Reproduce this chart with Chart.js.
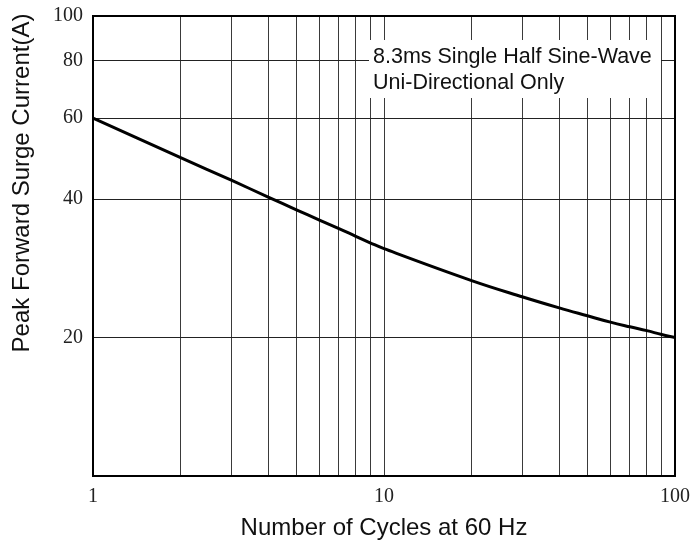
<!DOCTYPE html>
<html>
<head>
<meta charset="utf-8">
<script src="https://cdn.jsdelivr.net/npm/chart.js@4"></script>
<style>
  html, body { margin: 0; padding: 0; background: #fff; }
  #wrap { width: 692px; height: 542px; }
</style>
</head>
<body>
<div id="wrap"><canvas id="c" width="692" height="542"></canvas></div>
<script>
// ---- data ----
const cycles = [1, 2, 3, 4, 5, 6, 7, 8, 9, 10, 20, 30, 40, 50, 60, 70, 80, 90, 100];
const surgeCurrent = [60, 49.2, 43.9, 40.4, 37.9, 36.0, 34.5, 33.2, 32.1, 31.2, 26.6, 24.5, 23.2, 22.3, 21.6, 21.1, 20.7, 20.3, 20];
const xGridTicks = [1, 2, 3, 4, 5, 6, 7, 8, 9, 10, 20, 30, 40, 50, 60, 70, 80, 90, 100];
const xTickLabels = [1, 10, 100];
const yGridTicks = [10, 20, 40, 60, 80, 100];
const yTickLabels = [20, 40, 60, 80, 100];
const xTitle = 'Number of Cycles at 60 Hz';
const yTitle = 'Peak Forward Surge Current(A)';
const noteLines = ['8.3ms Single Half Sine-Wave', 'Uni-Directional Only'];

const decor = {
  id: 'decor',
  beforeDatasetsDraw(chart) {
    const ctx = chart.ctx;
    ctx.save();
    ctx.fillStyle = '#fff';
    ctx.fillRect(369, 40, 292, 58);
    ctx.fillStyle = '#111';
    ctx.font = '21.5px "Liberation Sans", Arial, sans-serif';
    ctx.textBaseline = 'alphabetic';
    ctx.textAlign = 'left';
    ctx.fillText(noteLines[0], 373, 63);
    ctx.fillText(noteLines[1], 373, 89);
    ctx.restore();
  },
  afterDraw(chart) {
    const ctx = chart.ctx;
    const a = chart.chartArea;
    ctx.save();
    ctx.strokeStyle = '#000';
    ctx.lineWidth = 2;
    ctx.strokeRect(a.left, a.top, a.right - a.left, a.bottom - a.top);
    ctx.fillStyle = '#111';
    ctx.font = '24px "Liberation Sans", Arial, sans-serif';
    ctx.textAlign = 'center';
    ctx.textBaseline = 'alphabetic';
    ctx.fillText(xTitle, (a.left + a.right) / 2, 535);
    ctx.translate(29, 183);
    ctx.rotate(-Math.PI / 2);
    ctx.fillText(yTitle, 0, 0);
    ctx.restore();
  }
};

new Chart(document.getElementById('c'), {
  type: 'line',
  data: {
    datasets: [{
      data: cycles.map((x, i) => ({ x: x, y: surgeCurrent[i] })),
      borderColor: '#000',
      borderWidth: 3,
      pointRadius: 0,
      tension: 0.4,
      fill: false
    }]
  },
  options: {
    responsive: false,
    animation: false,
    layout: { padding: { top: 16, right: 17, left: 0, bottom: 0 } },
    plugins: { legend: { display: false }, tooltip: { enabled: false }, title: { display: false } },
    scales: {
      x: {
        type: 'logarithmic',
        min: 1, max: 100,
        afterBuildTicks: (s) => { s.ticks = xGridTicks.map(v => ({ value: v })); },
        afterFit: (s) => { s.height = 66; s.paddingLeft = 0; s.paddingRight = 0; },
        grid: { color: '#3a3a3a', lineWidth: 1, drawTicks: false },
        border: { display: false },
        ticks: {
          autoSkip: false, maxRotation: 0, padding: 9,
          color: '#222',
          font: { family: '"Liberation Serif", "DejaVu Serif", serif', size: 20 },
          callback: (v) => xTickLabels.includes(v) ? String(v) : ''
        }
      },
      y: {
        type: 'logarithmic',
        min: 10, max: 100,
        afterBuildTicks: (s) => { s.ticks = yGridTicks.map(v => ({ value: v })); },
        afterFit: (s) => { s.width = 93; s.paddingTop = 0; s.paddingBottom = 0; },
        grid: { color: '#222', lineWidth: 1, drawTicks: false },
        border: { display: false },
        ticks: {
          autoSkip: false, padding: 10,
          color: '#222',
          font: { family: '"Liberation Serif", "DejaVu Serif", serif', size: 20 },
          callback: (v) => yTickLabels.includes(v) ? String(v) : ''
        }
      }
    }
  },
  plugins: [decor]
});
</script>
</body>
</html>
